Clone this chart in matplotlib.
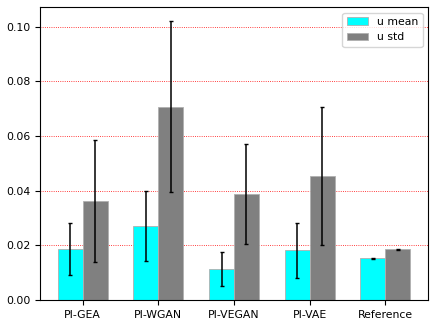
import matplotlib
matplotlib.use("Agg")
import matplotlib.pyplot as plt
import numpy as np

categories = ["PI-GEA", "PI-WGAN", "PI-VEGAN", "PI-VAE", "Reference"]
u_mean = [0.0188, 0.0270, 0.0114, 0.0182, 0.0153]
u_mean_err = [0.0095, 0.0128, 0.0061, 0.0100, 0.0002]
u_std = [0.0362, 0.0707, 0.0388, 0.0455, 0.0185]
u_std_err = [0.0222, 0.0313, 0.0183, 0.0253, 0.0001]

fs = 7.8
fig = plt.figure(figsize=(4.36, 3.27), dpi=100)
ax = fig.add_axes([0.0917, 0.0826, 0.89, 0.895])

x = np.arange(len(categories))
w = 0.33
ax.bar(x - w / 2, u_mean, w, yerr=u_mean_err, color="cyan", label="u mean",
       edgecolor="#b0b0b0", linewidth=0.6, ecolor="black", capsize=1.5,
       error_kw=dict(elinewidth=1.1, capthick=1.0))
ax.bar(x + w / 2, u_std, w, yerr=u_std_err, color="gray", label="u std",
       edgecolor="#b0b0b0", linewidth=0.6, ecolor="black", capsize=1.5,
       error_kw=dict(elinewidth=1.1, capthick=1.0))

ax.set_xticks(x)
ax.set_xticklabels(categories, fontsize=fs)
ax.tick_params(axis="y", labelsize=fs)
ax.yaxis.grid(True, color="red", linestyle=":", linewidth=0.6)
ax.set_axisbelow(True)
ax.set_yticks([0.0, 0.02, 0.04, 0.06, 0.08, 0.10])
ax.set_yticklabels(["0.00", "0.02", "0.04", "0.06", "0.08", "0.10"])
ax.legend(loc="upper right", fontsize=fs)

fig.savefig("out.png", dpi=100)
